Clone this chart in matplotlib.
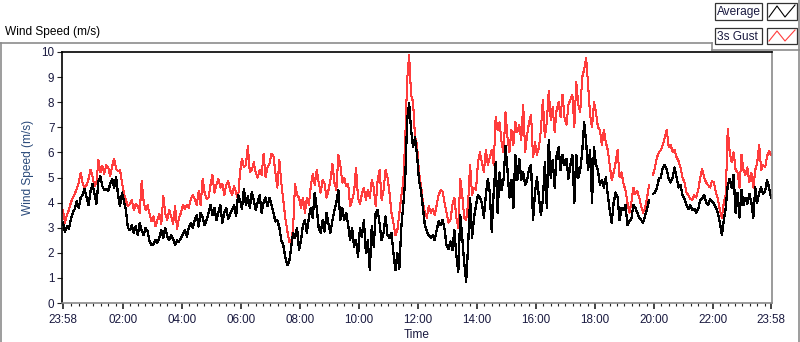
import numpy as np
import matplotlib
matplotlib.use("Agg")
import matplotlib.pyplot as plt
from matplotlib.lines import Line2D
from matplotlib.patches import Rectangle

plt.rcParams['font.family'] = ['Liberation Sans', 'DejaVu Sans']

# ---------------- data (15 samples per hour, starting 23:58) ----------------
samples_per_hour = 15
avg_speed = [
    3.2, 2.85, 3.05, 2.95, 3.35, 3.6, 3.75, 4.05, 3.8, 4.2, 4.3, 4.55, 4.2, 3.9, 4.45,
    4.75, 4.35, 3.95, 4.85, 5.05, 4.65, 4.5, 4.55, 4.45, 4.75, 4.95, 4.6, 5.0, 4.3, 3.85,
    4.4, 4.05, 3.7, 3.0, 2.9, 3.1, 2.8, 3.05, 2.7, 3.2, 2.9, 2.7, 3.0, 2.85, 2.45,
    2.3, 2.35, 2.5, 2.4, 2.6, 2.9, 2.6, 3.0, 2.65, 2.5, 2.7, 2.55, 2.3, 2.5, 2.45,
    2.6, 2.75, 2.9, 2.65, 3.0, 3.2, 3.0, 3.3, 3.5, 3.05, 3.6, 3.4, 3.1, 3.3, 3.6,
    3.9, 3.5, 3.8, 3.3, 3.6, 3.9, 3.2, 3.6, 3.8, 3.35, 3.55, 3.7, 3.9, 3.45, 4.3,
    4.1, 3.75, 4.55, 3.9, 4.25, 3.8, 4.4, 4.1, 3.7, 4.0, 4.3, 3.6, 4.0, 4.2, 3.85,
    4.2, 3.9, 3.6, 3.25, 3.3, 3.0, 2.5, 2.3, 1.85, 1.5, 1.65, 2.2, 2.8, 2.6, 3.0,
    2.1, 2.5, 3.1, 3.3, 2.8, 3.4, 3.8, 3.4, 4.4, 3.8, 3.0, 2.8, 3.3, 2.85, 3.6,
    3.15, 2.8, 3.3, 3.7, 4.0, 4.5, 3.3, 3.8, 3.3, 3.6, 3.1, 2.5, 3.0, 2.25, 2.5,
    1.85, 3.0, 2.65, 3.3, 2.0, 2.5, 1.3, 3.05, 2.25, 3.6, 3.7, 3.15, 2.5, 2.8, 3.45,
    2.7, 2.6, 2.8, 2.0, 1.3, 2.0, 1.35, 3.0, 3.9, 4.9, 7.3, 7.95, 6.9, 6.2, 6.6,
    5.9, 4.9, 4.5, 3.8, 3.1, 2.85, 2.7, 2.6, 2.7, 2.5, 2.9, 3.25, 3.1, 3.3, 2.95,
    2.3, 2.15, 2.45, 2.1, 2.9, 1.9, 1.25, 3.5, 2.6, 1.6, 0.85, 2.3, 4.2, 2.6, 3.4,
    3.9, 4.3, 4.2, 4.0, 3.4, 4.3, 4.95, 4.4, 2.85, 4.4, 5.6, 3.6, 5.2, 4.5, 4.9,
    6.25, 5.3, 4.2, 4.9, 3.8, 5.9, 4.9, 5.75, 4.9, 5.2, 4.7, 4.9, 5.35, 5.5, 3.3,
    4.4, 5.0, 4.2, 3.5, 4.1, 5.6, 3.8, 6.5, 5.0, 5.7, 4.6, 5.9, 6.2, 5.3, 5.9,
    5.5, 5.75, 4.95, 5.5, 5.9, 4.0, 5.9, 5.0, 5.3, 6.0, 7.2, 6.4, 5.3, 6.1, 4.0,
    6.2, 5.5, 5.3, 4.7, 4.9, 4.6, 5.0, 4.3, 3.7, 3.2, 4.0, 4.4, 4.2, 3.3, 3.8,
    3.7, 3.9, 3.1, 3.25, 3.35, 3.9, 3.8, 3.6, 3.4, 3.3, 3.2, 3.5, 3.75, 4.1, np.nan,
    4.35, 4.4, 4.6, 4.95, 5.0, 5.4, 5.5, 5.3, 4.95, 4.8, 5.0, 5.4, 5.0, 4.6, 4.7,
    4.3, 4.15, 3.9, 3.75, 3.9, 3.7, 3.75, 3.6, 3.75, 4.1, 4.15, 4.3, 4.0, 3.9, 4.15,
    4.05, 3.95, 3.8, 3.6, 3.2, 2.7, 3.3, 3.8, 4.7, 4.95, 4.6, 5.1, 3.6, 4.4, 3.4,
    4.5, 3.9, 4.2, 3.95, 4.35, 4.0, 3.4, 4.6, 4.0, 4.4, 4.6, 4.35, 4.45, 4.9, 4.6,
    4.2,
]
gust_speed = [
    3.7, 3.2, 3.5, 3.7, 4.0, 4.2, 4.35, 4.55, 4.8, 5.2, 4.75, 4.6, 4.7, 4.95, 5.3,
    5.05, 4.65, 4.8, 5.7, 5.2, 5.45, 5.15, 5.5, 5.4, 5.05, 5.45, 5.75, 5.35, 5.25, 5.3,
    4.8, 4.35, 4.1, 3.85, 3.95, 4.1, 3.7, 3.95, 3.85, 3.6, 4.85, 4.05, 3.7, 3.9, 3.55,
    3.25, 3.45, 3.05, 3.3, 3.55, 3.15, 4.25, 3.55, 3.3, 3.7, 3.45, 3.15, 3.85, 2.95, 3.4,
    3.6, 3.9, 3.75, 3.9, 3.8, 4.15, 4.3, 4.15, 3.9, 4.45, 3.9, 4.95, 4.4, 4.15, 4.2,
    4.7, 5.1, 4.4, 4.7, 4.95, 4.6, 4.75, 4.3, 4.7, 4.85, 4.5, 4.3, 4.65, 4.4, 4.15,
    5.2, 5.75, 5.4, 5.5, 6.25, 5.2, 5.3, 5.6, 5.2, 5.0, 5.3, 5.1, 5.95, 5.0, 5.4,
    5.55, 5.95, 5.85, 5.2, 4.6, 5.7, 4.8, 4.1, 3.4, 2.9, 2.45, 2.4, 3.0, 4.75, 4.3,
    4.2, 3.8, 4.2, 3.6, 4.2, 3.9, 4.65, 5.15, 4.7, 5.3, 4.8, 4.4, 4.9, 4.75, 4.2,
    4.5, 4.9, 5.55, 4.8, 4.5, 5.9, 5.5, 4.8, 5.0, 4.65, 4.75, 3.85, 4.1, 4.4, 5.4,
    4.2, 3.95, 4.35, 4.6, 4.1, 4.5, 4.2, 4.9, 4.6, 3.85, 4.9, 5.3, 4.1, 4.5, 5.3,
    5.0, 4.4, 3.6, 3.2, 2.7, 2.9, 3.55, 4.25, 4.8, 6.5, 8.9, 9.87, 8.3, 8.0, 6.6,
    6.3, 5.2, 4.7, 4.0, 3.6, 3.4, 3.85, 3.6, 3.75, 3.5, 3.9, 4.3, 4.5, 4.45, 4.0,
    3.6, 3.2, 3.3, 3.9, 4.2, 3.4, 3.0, 4.95, 4.3, 3.4, 3.3, 4.0, 5.5, 4.3, 4.6,
    4.5, 5.6, 6.0, 5.6, 5.2, 6.1, 5.5, 5.8, 6.1, 5.5, 7.4, 6.9, 7.2, 6.4, 6.0,
    7.6, 6.6, 6.0, 6.9, 6.3, 7.2, 6.8, 7.1, 6.5, 7.9, 6.0, 6.7, 7.2, 7.5, 5.8,
    6.4, 5.9, 6.2, 6.9, 8.1, 6.6, 7.2, 8.45, 7.3, 7.8, 6.8, 7.7, 8.0, 7.4, 8.3,
    7.4, 7.1, 7.9, 8.1, 8.3, 7.0, 8.8, 7.9, 7.6, 9.0, 9.3, 9.75, 8.7, 7.5, 7.0,
    8.0, 7.6, 7.0, 6.9, 6.3, 6.9, 6.4, 6.1, 5.5, 4.9, 5.2, 5.6, 6.1, 5.0, 5.2,
    4.75, 4.5, 4.0, 3.6, 4.0, 4.6, 4.35, 4.45, 4.2, 3.85, 3.6, 3.8, 4.2, 4.7, np.nan,
    5.1, 5.4, 5.8, 6.0, 6.1, 6.3, 6.6, 6.9, 6.2, 6.3, 6.0, 6.1, 5.8, 5.65, 5.4,
    5.0, 4.8, 4.4, 4.3, 4.15, 4.1, 4.3, 4.2, 4.5, 5.0, 5.35, 5.0, 4.8, 4.7, 4.6,
    4.85, 4.8, 4.4, 4.15, 3.7, 3.4, 4.0, 4.3, 6.95, 6.0, 5.6, 6.0, 5.3, 5.2, 4.6,
    5.9, 5.3, 5.1, 5.4, 4.8, 5.2, 4.6, 5.3, 5.6, 6.3, 5.3, 5.5, 5.4, 5.85, 6.05,
    5.9,
]
# x tick positions in hours after 23:58 and their labels
tick_hours = [0, 2 + 2 / 60, 4 + 2 / 60, 6 + 2 / 60, 8 + 2 / 60, 10 + 2 / 60, 12 + 2 / 60,
              14 + 2 / 60, 16 + 2 / 60, 18 + 2 / 60, 20 + 2 / 60, 22 + 2 / 60, 24]
tick_labels = ["23:58", "02:00", "04:00", "06:00", "08:00", "10:00", "12:00",
               "14:00", "16:00", "18:00", "20:00", "22:00", "23:58"]
y_ticks = [0, 1, 2, 3, 4, 5, 6, 7, 8, 9, 10]
series_names = ["Average", "3s Gust"]

# ---------------- figure ----------------
W, H = 800, 342
fig = plt.figure(figsize=(W / 100, H / 100), dpi=100)
fig.patch.set_facecolor('white')


def fx(px):
    return px / W


def fy(py):
    return 1 - py / H


ax = fig.add_axes([fx(62), fy(303), (772 - 62) / W, (303 - 52) / H])

t = np.arange(len(avg_speed)) / samples_per_hour
gust_color = '#ff3c3c'
ax.plot(t, gust_speed, color=gust_color, lw=0.75, antialiased=False)
ax.plot(t, avg_speed, color='black', lw=0.9, antialiased=False)

ax.set_xlim(-1 / 29.5, 24 + 1 / 29.5)
ax.set_ylim(0, 10)

txt_color = '#1a1a40'
ax.set_yticks(y_ticks)
ax.set_yticklabels([str(v) for v in y_ticks])
ax.set_xticks(tick_hours)
ax.set_xticklabels(tick_labels)
minor = []
for m in range(15, 24 * 60, 15):
    h = (m + 2) / 60.0
    if all(abs(h - th) > 0.1 for th in tick_hours):
        minor.append(h)
ax.set_xticks(minor, minor=True)
ax.tick_params(axis='y', direction='out', length=3.5, width=0.8, pad=2,
               labelsize=8.4, colors='#222222', labelcolor=txt_color)
ax.tick_params(axis='x', which='major', direction='out', length=4, width=1.2, pad=4,
               labelsize=8.4, colors='#222222', labelcolor=txt_color)
ax.tick_params(axis='x', which='minor', direction='out', length=2.5, width=0.8,
               colors='#222222')

for side in ['top', 'left']:
    ax.spines[side].set_color('black')
    ax.spines[side].set_linewidth(1.2)
for side in ['bottom', 'right']:
    ax.spines[side].set_color('#8a8a8a')
    ax.spines[side].set_linewidth(1.2)

ax.set_xlabel("Time", fontsize=8.6, color='#1a1a40', labelpad=2)
ax.set_ylabel("Wind Speed (m/s)", fontsize=8.6, color='#2a4a7a')
ax.yaxis.set_label_coords(-0.04, 0.54)

# chart caption
fig.text(fx(5), fy(31.5), "Wind Speed (m/s)", fontsize=8.6, color='black',
         ha='left', va='center')

# outer frame lines
frame_col = '#8c8c8c'
fig.add_artist(Line2D([fx(0), fx(712)], [fy(42.5), fy(42.5)], color=frame_col, lw=1.2))
fig.add_artist(Line2D([fx(712), fx(712)], [fy(42.5), fy(49.5)], color=frame_col, lw=1.2))
fig.add_artist(Line2D([fx(712), fx(800)], [fy(49.5), fy(49.5)], color=frame_col, lw=1.2))
fig.add_artist(Line2D([fx(0.8), fx(0.8)], [fy(42.5), fy(342)], color=frame_col, lw=1.2))
fig.add_artist(Line2D([fx(799.3), fx(799.3)], [fy(0), fy(342)], color=frame_col, lw=1.2))

# legend boxes
legend_rows = [(3, 20), (28, 44)]
colors = ['black', gust_color]
for (y0, y1), name, col in zip(legend_rows, series_names, colors):
    fig.add_artist(Rectangle((fx(715), fy(y1)), (762 - 715) / W, (y1 - y0) / H,
                             transform=fig.transFigure, facecolor='white',
                             edgecolor='#333333', lw=0.9))
    fig.text(fx(717), fy((y0 + y1) / 2 + 0.5), name, fontsize=8.6, color='#1a1a40',
             ha='left', va='center')
    fig.add_artist(Rectangle((fx(767), fy(y1)), (797 - 767) / W, (y1 - y0) / H,
                             transform=fig.transFigure, facecolor='white',
                             edgecolor='#333333', lw=0.9))
    zx = [769, 777, 785, 795]
    zy = [y1 - 3, y0 + 3, y1 - 3, y0 + 2]
    fig.add_artist(Line2D([fx(v) for v in zx], [fy(v) for v in zy], color=col, lw=0.8))

fig.savefig("out.png", dpi=100, facecolor='white')
